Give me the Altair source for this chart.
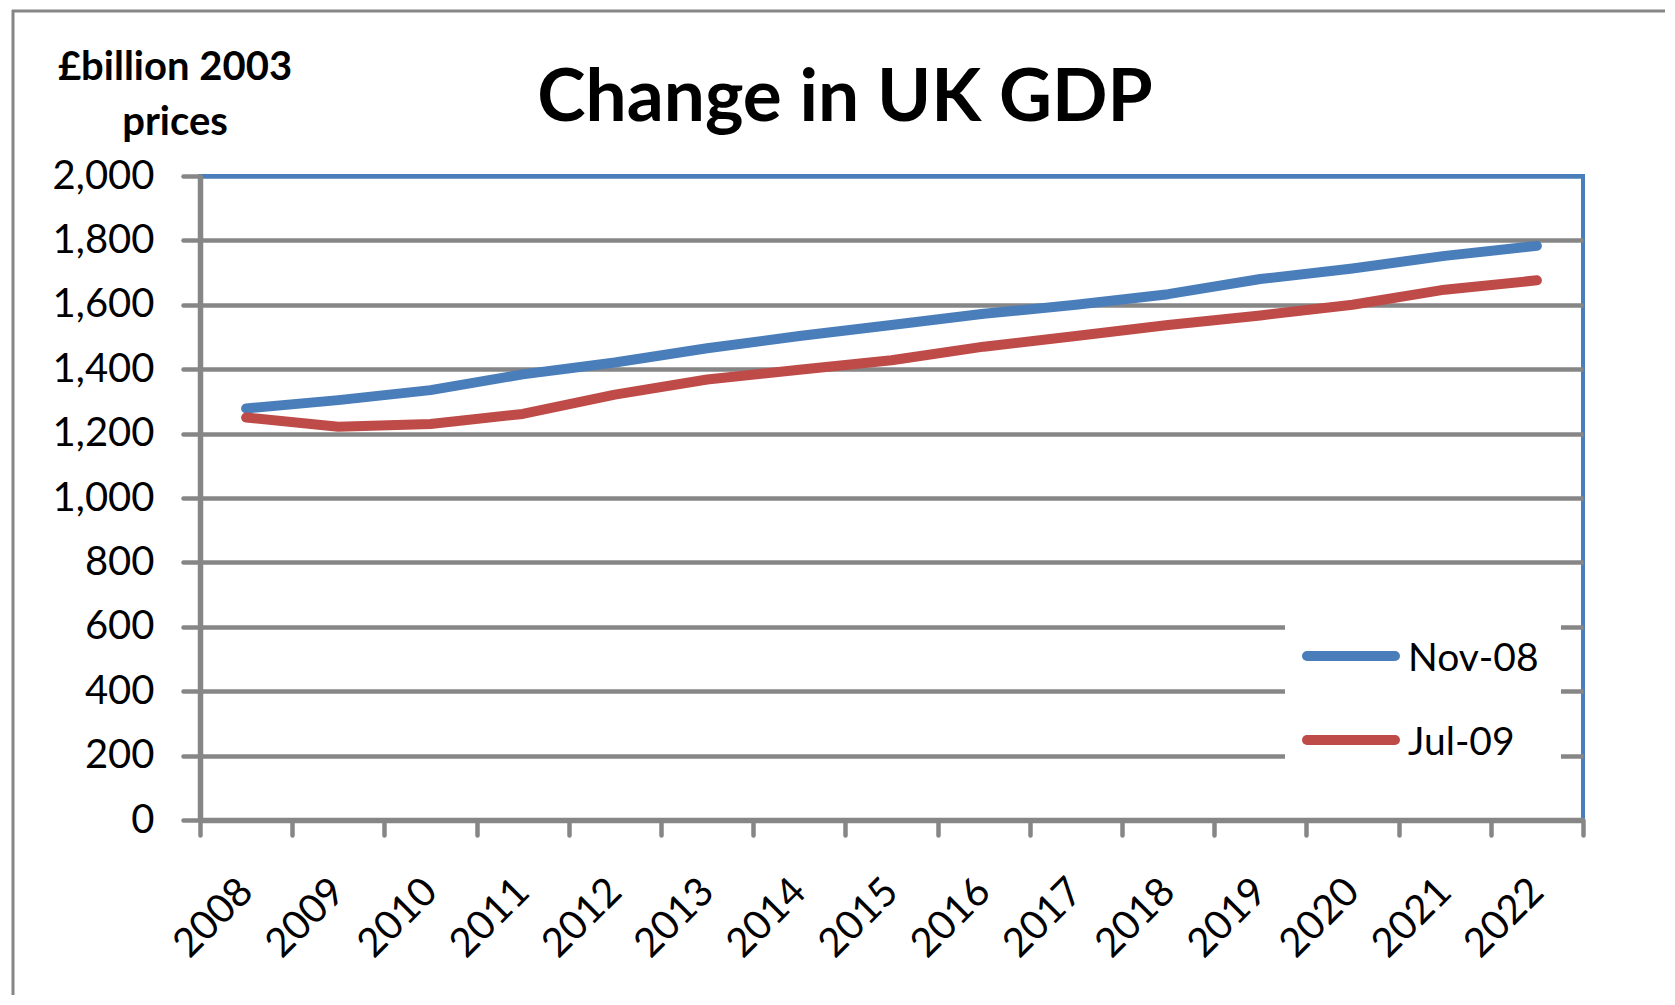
import altair as alt
import pandas as pd

years = [str(y) for y in range(2008, 2023)]
series_names = ["Nov-08", "Jul-09"]
nov08 = [1278, 1304, 1335, 1384, 1421, 1465, 1503, 1537, 1572, 1600, 1633, 1680, 1713, 1752, 1783]
jul09 = [1250, 1221, 1230, 1261, 1321, 1368, 1398, 1428, 1470, 1503, 1537, 1567, 1600, 1647, 1676]
y_ticks = list(range(0, 2001, 200))

title_text = "Change in UK GDP"
y_title = "£billion 2003\nprices"

BLUE = "#4a7ebb"
RED = "#be4b48"
GRAY = "#868686"
FONT = "Lato"

rows = []
for name, vals in zip(series_names, [nov08, jul09]):
    for yr, v in zip(years, vals):
        rows.append({"year": yr, "series": name, "value": v})
df = pd.DataFrame(rows)

color_scale = alt.Scale(domain=series_names, range=[BLUE, RED])

x_enc = alt.X(
    "year:N",
    bandPosition=0.5,
    scale=alt.Scale(type="band", paddingInner=0, paddingOuter=0),
    axis=alt.Axis(
        title=None,
        labelAngle=-45,
        labelAlign="right",
        labelBaseline="middle",
        labelFont=FONT,
        labelFontSize=40,
        labelColor="black",
        labelPadding=50,
        tickSize=15,
        tickWidth=4.5,
        tickColor=GRAY,
        tickCap="round",
        tickBand="extent",
        domainColor=GRAY,
        domainWidth=5.5,
        grid=False,
    ),
)
y_enc = alt.Y(
    "value:Q",
    scale=alt.Scale(domain=[0, 2000], nice=False, zero=True),
    axis=alt.Axis(
        title=None,
        values=y_ticks,
        format=",d",
        labelFont=FONT,
        labelFontSize=40,
        labelColor="black",
        labelPadding=29,
        tickSize=17,
        tickWidth=4.5,
        tickColor=GRAY,
        tickCap="round",
        domainColor=GRAY,
        domainWidth=5.5,
        grid=True,
        gridColor={"condition": {"test": "datum.value === 2000", "value": BLUE}, "value": GRAY},
        gridWidth=4.5,
    ),
)

def series_line(name):
    return (
        alt.Chart(df)
        .transform_filter(alt.datum.series == name)
        .mark_line(strokeWidth=10, strokeCap="round", strokeJoin="round")
        .encode(
            x=x_enc,
            y=y_enc,
            color=alt.Color("series:N", scale=color_scale, legend=None),
        )
    )

one = pd.DataFrame({"t": [title_text], "yt": [y_title]})
leg_df = pd.DataFrame({"series": series_names, "label": series_names})

frame_top = alt.Chart(one).mark_rule(stroke=GRAY, strokeWidth=3).encode(
    x=alt.value(-188), x2=alt.value(1500), y=alt.value(-165)
)
frame_left = alt.Chart(one).mark_rule(stroke=GRAY, strokeWidth=3).encode(
    x=alt.value(-187), y=alt.value(-166), y2=alt.value(900)
)

title = alt.Chart(one).mark_text(
    font=FONT, fontSize=73, fontWeight="bold", align="center", baseline="alphabetic", color="black"
).encode(x=alt.value(645), y=alt.value(-55), text="t:N")

ytitle = alt.Chart(one).mark_text(
    font=FONT, fontSize=40, fontWeight="bold", align="center", baseline="alphabetic",
    color="black", lineBreak="\n", lineHeight=55
).encode(x=alt.value(-25), y=alt.value(-96), text="yt:N")

leg_bg = alt.Chart(one).mark_rect(fill="white").encode(
    x=alt.value(1085), x2=alt.value(1361), y=alt.value(409), y2=alt.value(629)
)

leg_layers = []
for name, ypos in zip(series_names, [480, 564]):
    d = leg_df[leg_df.series == name]
    leg_layers.append(
        alt.Chart(d).mark_rule(strokeWidth=10, strokeCap="round").encode(
            x=alt.value(1107), x2=alt.value(1195), y=alt.value(ypos),
            color=alt.Color("series:N", scale=color_scale, legend=None),
        )
    )
    leg_layers.append(
        alt.Chart(d).mark_text(
            font=FONT, fontSize=39, align="left", baseline="alphabetic", color="black"
        ).encode(x=alt.value(1208), y=alt.value(ypos + 15), text="label:N")
    )

chart = (
    alt.layer(frame_top, frame_left, series_line("Nov-08"), series_line("Jul-09"),
              leg_bg, *leg_layers, title, ytitle)
    .properties(
        width=1383,
        height=644,
        padding={"left": 192, "top": 168, "right": 82, "bottom": 175},
        autosize=alt.AutoSizeParams(type="none"),
        background="white",
    )
    .configure_view(stroke=BLUE, strokeWidth=4)
)

chart.save("out.html", embed_options={"renderer": "svg", "actions": False})
